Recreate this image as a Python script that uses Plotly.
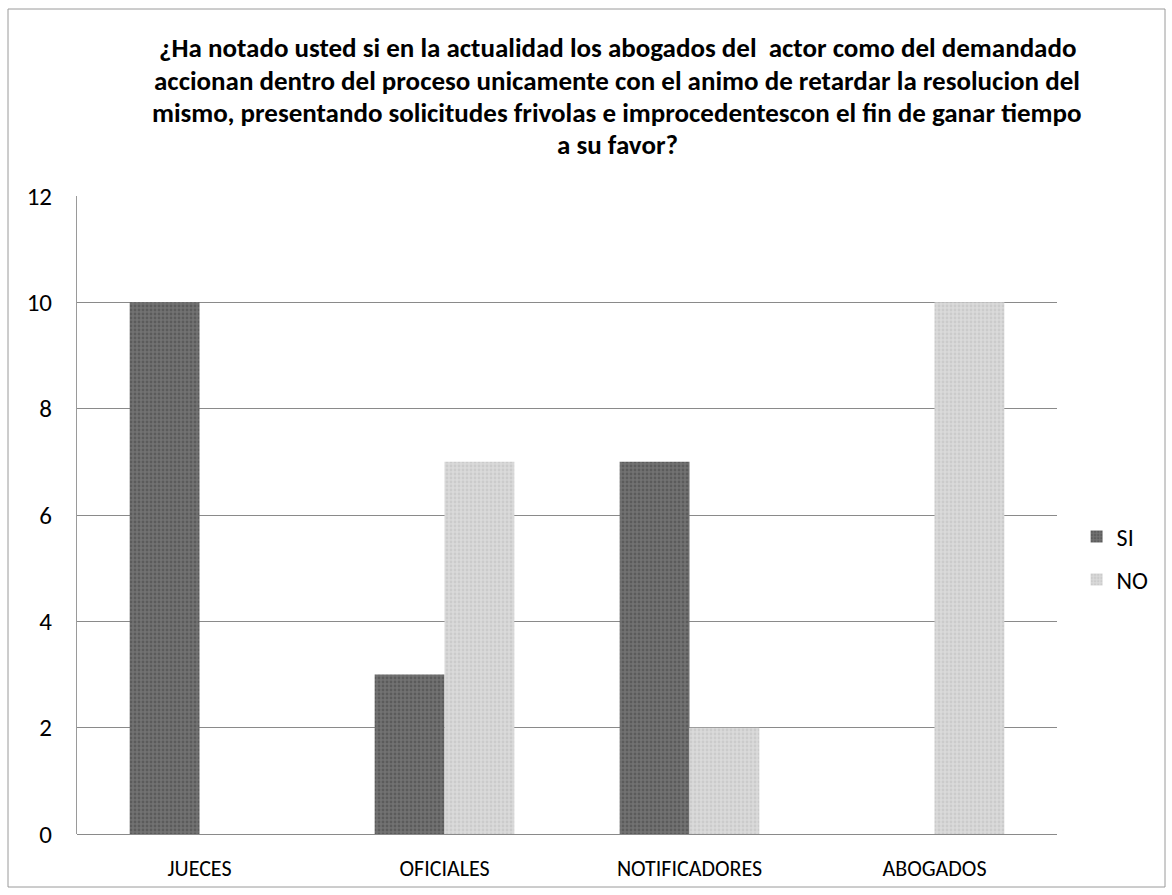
import plotly.graph_objects as go

categories = ["JUECES", "OFICIALES", "NOTIFICADORES", "ABOGADOS"]
si_values = [10, 3, 7, 0]
no_values = [0, 7, 2, 10]
y_ticks = [0, 2, 4, 6, 8, 10, 12]
title_lines = [
    "¿Ha notado usted si en la actualidad los abogados del  actor como del demandado",
    "accionan dentro del proceso unicamente con el animo de retardar la resolucion del",
    "mismo, presentando solicitudes frivolas e improcedentescon el fin de ganar tiempo",
    "a su favor?",
]

FONT = "Carlito, Calibri, Lato, sans-serif"

fig = go.Figure()
fig.add_trace(go.Bar(
    x=categories, y=si_values, name="SI",
    marker=dict(color="#666666", line=dict(width=0),
                pattern=dict(shape=".", fgcolor="#444444", bgcolor="#727272", size=4, solidity=0.4)),
    legend="legend",
))
fig.add_trace(go.Bar(
    x=categories, y=no_values, name="NO",
    marker=dict(color="#d2d2d2", line=dict(width=0),
                pattern=dict(shape=".", fgcolor="#bcbcbc", bgcolor="#dadada", size=4, solidity=0.4)),
    legend="legend2",
))

annotations = []
for i, line in enumerate(title_lines):
    annotations.append(dict(
        text=f"<b>{line}</b>", xref="paper", yref="paper",
        x=(617 - 77) / 980, y=1 + (196 - 48 - 32.3 * i) / 638,
        xanchor="center", yanchor="middle", showarrow=False,
        font=dict(family=FONT, size=27, color="#000000"),
    ))

fig.update_layout(
    width=1172, height=895,
    margin=dict(l=77, r=115, t=196, b=61),
    paper_bgcolor="white", plot_bgcolor="white",
    barmode="group", bargap=0.43, bargroupgap=0,
    font=dict(family=FONT, size=22, color="#000000"),
    showlegend=True,
    legend=dict(x=1.02, y=(834 - 537) / 638, xanchor="left", yanchor="middle",
                font=dict(family=FONT, size=24), bgcolor="rgba(0,0,0,0)",
                itemwidth=30),
    legend2=dict(x=1.02, y=(834 - 580) / 638, xanchor="left", yanchor="middle",
                 font=dict(family=FONT, size=24), bgcolor="rgba(0,0,0,0)",
                 itemwidth=30),
    annotations=annotations,
    shapes=[dict(type="rect", xref="paper", yref="paper",
                 x0=-69 / 980, x1=1 + 108 / 980, y0=-53 / 638, y1=1 + 187 / 638,
                 line=dict(color="#9a9a9a", width=1))],
)
fig.update_xaxes(showgrid=False, showline=False, ticks="", zeroline=False,
                 ticklabelstandoff=19,
                 tickfont=dict(family=FONT, size=22))
fig.update_yaxes(range=[0, 12], tickvals=y_ticks, showgrid=True,
                 gridcolor="#8a8a8a", gridwidth=1, zeroline=True,
                 zerolinecolor="#8a8a8a", zerolinewidth=1,
                 showline=True, linecolor="#9a9a9a", linewidth=1,
                 ticks="", ticklabelstandoff=19,
                 tickfont=dict(family=FONT, size=25))

fig.write_html("out.html")
